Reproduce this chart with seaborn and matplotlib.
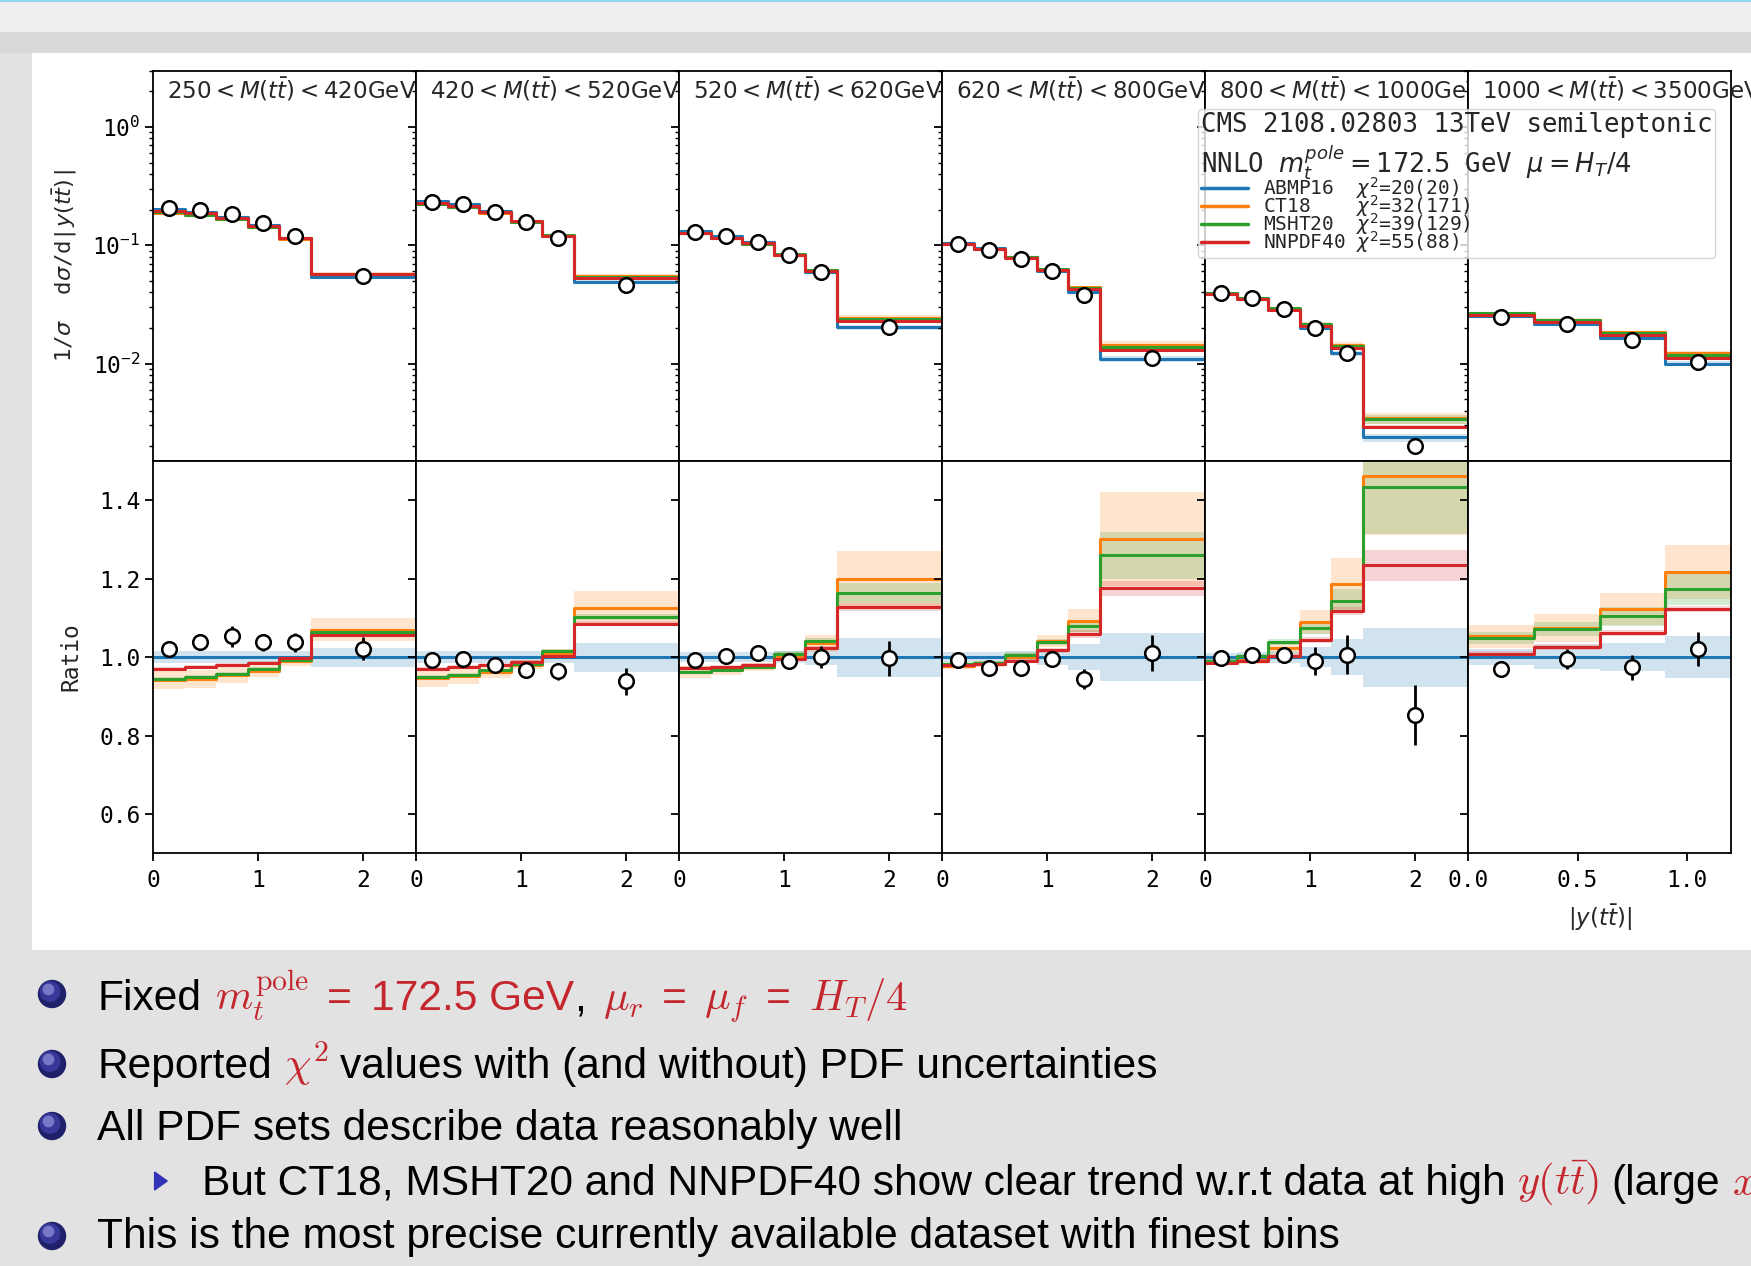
import numpy as np
import pandas as pd
import matplotlib
matplotlib.use("Agg")
import matplotlib.pyplot as plt
import seaborn as sns
from matplotlib.patches import Rectangle, Circle, Polygon
from matplotlib.lines import Line2D
from matplotlib.font_manager import FontProperties
from matplotlib.transforms import IdentityTransform

# ---------------- data ----------------
mass_labels = [r"$250 < M(t\bar{t}) < 420\mathrm{GeV}$",
               r"$420 < M(t\bar{t}) < 520\mathrm{GeV}$",
               r"$520 < M(t\bar{t}) < 620\mathrm{GeV}$",
               r"$620 < M(t\bar{t}) < 800\mathrm{GeV}$",
               r"$800 < M(t\bar{t}) < 1000\mathrm{GeV}$",
               r"$1000 < M(t\bar{t}) < 3500\mathrm{GeV}$"]

edges_main = [0.0, 0.3, 0.6, 0.9, 1.2, 1.5, 2.5]
edges_last = [0.0, 0.3, 0.6, 0.9, 1.2]
centers_main = [0.15, 0.45, 0.75, 1.05, 1.35, 2.0]
centers_last = [0.15, 0.45, 0.75, 1.05]
xticks_main = [0, 1, 2]
xticklabels_main = ["0", "1", "2"]
xticks_last = [0.0, 0.5, 1.0]
xticklabels_last = ["0.0", "0.5", "1.0"]
ratio_ticks = [0.6, 0.8, 1.0, 1.2, 1.4]

pdf_names = ["ABMP16", "CT18", "MSHT20", "NNPDF40"]
chi2_text = ["20(20)", "32(171)", "39(129)", "55(88)"]

# ABMP16 normalised cross section (reference prediction), per mass bin
abmp_p1 = [0.2006, 0.1907, 0.1738, 0.1472, 0.1149, 0.0537]
abmp_p2 = [0.2352, 0.2223, 0.1961, 0.1613, 0.1197, 0.0487]
abmp_p3 = [0.1307, 0.1187, 0.1056, 0.0829, 0.0594, 0.0203]
abmp_p4 = [0.1041, 0.0943, 0.0791, 0.0603, 0.0404, 0.0110]
abmp_p5 = [0.0395, 0.0355, 0.0285, 0.0200, 0.0122, 0.00237]
abmp_p6 = [0.0254, 0.0217, 0.0163, 0.0100]

# data / ABMP16
data_p1 = [1.022, 1.038, 1.053, 1.038, 1.038, 1.022]
data_p2 = [0.993, 0.996, 0.979, 0.966, 0.964, 0.938]
data_p3 = [0.993, 1.004, 1.010, 0.991, 1.000, 0.997]
data_p4 = [0.992, 0.973, 0.973, 0.996, 0.944, 1.010]
data_p5 = [0.997, 1.006, 1.005, 0.990, 1.006, 0.852]
data_p6 = [0.969, 0.995, 0.974, 1.021]

err_p1 = [0.020, 0.020, 0.026, 0.022, 0.024, 0.030]
err_p2 = [0.015, 0.015, 0.015, 0.018, 0.022, 0.035]
err_p3 = [0.015, 0.015, 0.015, 0.015, 0.028, 0.045]
err_p4 = [0.012, 0.012, 0.012, 0.015, 0.026, 0.046]
err_p5 = [0.012, 0.014, 0.016, 0.036, 0.050, 0.077]
err_p6 = [0.012, 0.025, 0.032, 0.043]

# CT18 / ABMP16
ct18_p1 = [0.942, 0.945, 0.954, 0.964, 0.990, 1.070]
ct18_p2 = [0.947, 0.952, 0.963, 0.981, 1.010, 1.126]
ct18_p3 = [0.962, 0.966, 0.975, 1.002, 1.035, 1.200]
ct18_p4 = [0.978, 0.983, 1.000, 1.042, 1.093, 1.301]
ct18_p5 = [0.989, 0.993, 1.023, 1.089, 1.187, 1.461]
ct18_p6 = [1.053, 1.074, 1.123, 1.217]

# MSHT20 / ABMP16
msht_p1 = [0.944, 0.949, 0.957, 0.969, 0.993, 1.063]
msht_p2 = [0.950, 0.955, 0.966, 0.983, 1.015, 1.103]
msht_p3 = [0.963, 0.968, 0.974, 1.009, 1.040, 1.164]
msht_p4 = [0.982, 0.986, 1.006, 1.038, 1.079, 1.260]
msht_p5 = [0.991, 1.002, 1.038, 1.074, 1.144, 1.433]
msht_p6 = [1.049, 1.072, 1.104, 1.173]

# NNPDF40 / ABMP16
nnpdf_p1 = [0.971, 0.974, 0.979, 0.986, 0.998, 1.056]
nnpdf_p2 = [0.969, 0.974, 0.979, 0.987, 1.002, 1.085]
nnpdf_p3 = [0.972, 0.976, 0.980, 0.995, 1.023, 1.128]
nnpdf_p4 = [0.981, 0.983, 0.991, 1.017, 1.059, 1.175]
nnpdf_p5 = [0.986, 0.989, 1.003, 1.044, 1.117, 1.234]
nnpdf_p6 = [1.009, 1.026, 1.062, 1.123]

# PDF uncertainty half-widths (ratio units)
abmp_unc_p1 = [0.015, 0.015, 0.015, 0.015, 0.015, 0.024]
abmp_unc_p2 = [0.015, 0.015, 0.015, 0.015, 0.015, 0.037]
abmp_unc_p3 = [0.012, 0.012, 0.012, 0.015, 0.020, 0.050]
abmp_unc_p4 = [0.012, 0.012, 0.015, 0.020, 0.033, 0.062]
abmp_unc_p5 = [0.010, 0.012, 0.015, 0.025, 0.045, 0.075]
abmp_unc_p6 = [0.020, 0.030, 0.035, 0.053]

ct18_unc_p1 = [0.023, 0.023, 0.020, 0.015, 0.012, 0.030]
ct18_unc_p2 = [0.023, 0.020, 0.015, 0.012, 0.012, 0.042]
ct18_unc_p3 = [0.015, 0.012, 0.010, 0.010, 0.022, 0.070]
ct18_unc_p4 = [0.008, 0.008, 0.010, 0.015, 0.030, 0.120]
ct18_unc_p5 = [0.008, 0.010, 0.015, 0.030, 0.065, 0.150]
ct18_unc_p6 = [0.030, 0.035, 0.040, 0.070]

msht_unc_p1 = [0.005, 0.005, 0.005, 0.005, 0.005, 0.006]
msht_unc_p2 = [0.005, 0.005, 0.005, 0.005, 0.005, 0.008]
msht_unc_p3 = [0.005, 0.005, 0.005, 0.006, 0.010, 0.025]
msht_unc_p4 = [0.005, 0.005, 0.006, 0.008, 0.015, 0.060]
msht_unc_p5 = [0.005, 0.006, 0.008, 0.015, 0.030, 0.120]
msht_unc_p6 = [0.015, 0.018, 0.025, 0.040]

nnpdf_unc_p1 = [0.005, 0.005, 0.005, 0.005, 0.005, 0.005]
nnpdf_unc_p2 = [0.005, 0.005, 0.005, 0.005, 0.005, 0.006]
nnpdf_unc_p3 = [0.005, 0.005, 0.005, 0.005, 0.006, 0.010]
nnpdf_unc_p4 = [0.005, 0.005, 0.005, 0.006, 0.010, 0.020]
nnpdf_unc_p5 = [0.005, 0.005, 0.006, 0.008, 0.010, 0.040]
nnpdf_unc_p6 = [0.007, 0.007, 0.007, 0.008]

abmp_all = [abmp_p1, abmp_p2, abmp_p3, abmp_p4, abmp_p5, abmp_p6]
data_all = [data_p1, data_p2, data_p3, data_p4, data_p5, data_p6]
err_all = [err_p1, err_p2, err_p3, err_p4, err_p5, err_p6]
ratios_all = [
    [[1.0] * len(abmp_all[i]) for i in range(6)],
    [ct18_p1, ct18_p2, ct18_p3, ct18_p4, ct18_p5, ct18_p6],
    [msht_p1, msht_p2, msht_p3, msht_p4, msht_p5, msht_p6],
    [nnpdf_p1, nnpdf_p2, nnpdf_p3, nnpdf_p4, nnpdf_p5, nnpdf_p6],
]
unc_all = [
    [abmp_unc_p1, abmp_unc_p2, abmp_unc_p3, abmp_unc_p4, abmp_unc_p5, abmp_unc_p6],
    [ct18_unc_p1, ct18_unc_p2, ct18_unc_p3, ct18_unc_p4, ct18_unc_p5, ct18_unc_p6],
    [msht_unc_p1, msht_unc_p2, msht_unc_p3, msht_unc_p4, msht_unc_p5, msht_unc_p6],
    [nnpdf_unc_p1, nnpdf_unc_p2, nnpdf_unc_p3, nnpdf_unc_p4, nnpdf_unc_p5, nnpdf_unc_p6],
]

# ---------------- style ----------------
sns.set_theme(style="ticks")
MONO = "DejaVu Sans Mono"
plt.rcParams.update({
    "font.family": [MONO, "DejaVu Sans"],
    "mathtext.fontset": "dejavusans",
    "axes.edgecolor": "black",
    "axes.linewidth": 1.3,
    "xtick.color": "black",
    "ytick.color": "black",
    "xtick.major.width": 1.3,
    "ytick.major.width": 1.3,
    "ytick.minor.width": 1.0,
    "xtick.major.size": 5.5,
    "ytick.major.size": 5.5,
    "ytick.minor.size": 3.0,
    "xtick.direction": "out",
    "ytick.direction": "out",
    "axes.facecolor": "white",
})
colors = sns.color_palette("tab10")[:4]

W, H = 1751, 1266
fig = plt.figure(figsize=(W / 100, H / 100), dpi=100, facecolor="#e2e2e2")


def fig_rect(x0, y0, x1, y1, color, z=0):
    fig.add_artist(Rectangle((x0 / W, 1 - y1 / H), (x1 - x0) / W, (y1 - y0) / H,
                             transform=fig.transFigure, color=color, lw=0, zorder=z))


# slide background pieces
fig_rect(0, 0, W, 32, "#eeeeee")
fig_rect(0, 0, W, 2, "#96d6f0")
fig_rect(0, 32, W, 53, "#d9d9d9")
fig_rect(32, 53, W, 950, "white")

# ---------------- axes ----------------
LEFT, PW = 153.0, 263.0
TOP_Y0, MID_Y, BOT_Y1 = 70.5, 461.0, 853.3

top_axes, bot_axes = [], []
for i in range(6):
    ax = fig.add_axes([(LEFT + i * PW) / W, 1 - MID_Y / H, PW / W, (MID_Y - TOP_Y0) / H])
    top_axes.append(ax)
for i in range(6):
    ax = fig.add_axes([(LEFT + i * PW) / W, 1 - BOT_Y1 / H, PW / W, (BOT_Y1 - MID_Y) / H])
    bot_axes.append(ax)

TICK_FS = 16.5

for i in range(6):
    edges = edges_last if i == 5 else edges_main
    centers = centers_last if i == 5 else centers_main
    abmp = np.array(abmp_all[i])
    axt, axb = top_axes[i], bot_axes[i]

    # bands
    for k in range(4):
        r = np.array(ratios_all[k][i])
        u = np.array(unc_all[k][i])
        lo = r - u
        hi = r + u
        axb.fill_between(edges, list(lo) + [lo[-1]], list(hi) + [hi[-1]], step="post",
                         color=colors[k], alpha=0.2, lw=0, zorder=1)
        lo_a = abmp * lo
        hi_a = abmp * hi
        axt.fill_between(edges, list(lo_a) + [lo_a[-1]], list(hi_a) + [hi_a[-1]], step="post",
                         color=colors[k], alpha=0.2, lw=0, zorder=1)
    # lines
    for k in range(4):
        r = np.array(ratios_all[k][i])
        yr = list(r) + [r[-1]]
        ya = list(abmp * r) + [abmp[-1] * r[-1]]
        sns.lineplot(x=edges, y=yr, ax=axb, color=colors[k], lw=2.2, drawstyle="steps-post",
                     estimator=None, sort=False, legend=False, zorder=2)
        sns.lineplot(x=edges, y=ya, ax=axt, color=colors[k], lw=2.2, drawstyle="steps-post",
                     estimator=None, sort=False, legend=False, zorder=2)
    # data
    d = np.array(data_all[i])
    e = np.array(err_all[i])
    axb.errorbar(centers, d, yerr=e, fmt="o", ms=10.5, mfc="white", mec="black", mew=1.8,
                 ecolor="black", elinewidth=2.0, capsize=0, zorder=5)
    axt.errorbar(centers, abmp * d, yerr=abmp * e, fmt="o", ms=10.5, mfc="white", mec="black",
                 mew=1.8, ecolor="black", elinewidth=2.0, capsize=0, zorder=5)

    # axes formatting
    xmax = edges[-1]
    for ax in (axt, axb):
        ax.set_xlim(0, xmax)
        ax.set_xlabel("")
        ax.set_ylabel("")
        for s in ax.spines.values():
            s.set_visible(True)
    axt.set_yscale("log")
    axt.set_ylim(1.5e-3, 3.0)
    axt.tick_params(axis="x", bottom=False, labelbottom=False)
    axt.tick_params(axis="y", labelsize=TICK_FS, labelleft=(i == 0))
    axb.set_ylim(0.5, 1.5)
    axb.set_yticks(ratio_ticks)
    axb.set_yticklabels([f"{v:.1f}" for v in ratio_ticks])
    axb.tick_params(axis="y", labelsize=TICK_FS, labelleft=(i == 0))
    if i == 5:
        axb.set_xticks(xticks_last)
        axb.set_xticklabels(xticklabels_last)
    else:
        axb.set_xticks(xticks_main)
        axb.set_xticklabels(xticklabels_main)
    axb.tick_params(axis="x", labelsize=TICK_FS, pad=6)

    axt.text(0.055, 0.952, mass_labels[i], transform=axt.transAxes, ha="left", va="center",
             fontsize=16.6, clip_on=False, zorder=6)

# axis labels
fig.text(65 / W, 1 - 266 / H, r"1/$\sigma$  d$\sigma$/d|$y(t\bar{t})$|", rotation=90,
         ha="center", va="center", fontsize=16)
fig.text(71 / W, 1 - 657 / H, "Ratio", rotation=90, ha="center", va="center", fontsize=16.5)
fig.text(1600 / W, 1 - 918 / H, r"$|y(t\bar{t})|$", ha="center", va="center", fontsize=16.5)

# legend
handles = [Line2D([], [], color=colors[k], lw=2.5) for k in range(4)]
labels = [f"{pdf_names[k]:<8s}" + r"$\chi^2$=" + chi2_text[k] for k in range(4)]
leg = fig.legend(handles, labels, loc="upper left", bbox_to_anchor=(1198 / W, 1 - 109 / H),
                 bbox_transform=fig.transFigure,
                 title="CMS 2108.02803 13TeV semileptonic\n"
                       r"NNLO $m_t^{pole}=172.5$ GeV $\mu=H_T/4$",
                 title_fontproperties=FontProperties(family=MONO, size=18.5),
                 prop=FontProperties(family=MONO, size=14), alignment="left",
                 labelspacing=-0.4, handlelength=2.4, handletextpad=0.8, borderpad=0.15,
                 borderaxespad=0.0, framealpha=0.8, edgecolor="#cccccc", fancybox=True)

# ---------------- slide text ----------------
RED = "#c4262e"
SANS = ["Liberation Sans", "DejaVu Sans"]
renderer = fig.canvas.get_renderer()


def text_line(x0, y_base, parts, size):
    x = x0
    space = size * 100 / 72 * 0.278
    for s, c, gap_before, mfam in parts:
        x += space * gap_before
        t = fig.text(x / W, 1 - y_base / H, s, color=c, fontsize=size, ha="left",
                     va="baseline", family=SANS, math_fontfamily=mfam, zorder=10)
        bb = t.get_window_extent(renderer)
        x = bb.x1


def ball(cx, cy, r=13.5):
    tr = IdentityTransform()
    cy_d = H - cy
    fig.add_artist(Circle((cx, cy_d), r, color="#20206a", transform=tr, zorder=9))
    fig.add_artist(Circle((cx - 2.0, cy_d + 2.5), r * 0.72, color="#38389a", transform=tr, zorder=9))
    fig.add_artist(Circle((cx - 3.5, cy_d + 4.5), r * 0.38, color="#7878c8", transform=tr, zorder=9))


def tri(cx, cy, s=9):
    tr = IdentityTransform()
    cy_d = H - cy
    fig.add_artist(Polygon([(cx - s * 0.6, cy_d + s), (cx - s * 0.6, cy_d - s), (cx + s * 0.8, cy_d)],
                           closed=True, color="#3333b8", transform=tr, zorder=9))


FS = 30.6
ball(52, 994)
text_line(97, 1010, [("Fixed", "black", 0, "cm"), (r"$m_t^{\mathrm{pole}}$", RED, 1.2, "cm"),
                     ("=", RED, 1.5, "cm"), ("172.5 GeV", RED, 1.6, "cm"), (",", "black", 0, "cm"),
                     (r"$\mu_r$", RED, 1.5, "cm"), ("=", RED, 1.5, "cm"),
                     (r"$\mu_f$", RED, 1.5, "cm"), ("=", RED, 1.5, "cm"),
                     (r"$H_T/4$", RED, 1.5, "cm")], FS)
ball(52, 1064)
text_line(97, 1078, [("Reported", "black", 0, "cm"), (r"$\chi^2$", RED, 1, "cm"),
                     ("values with (and without) PDF uncertainties", "black", 1, "cm")], FS)
ball(52, 1126)
text_line(97, 1140, [("All PDF sets describe data reasonably well", "black", 0, "cm")], FS)
tri(160, 1181)
text_line(202, 1195, [("But CT18, MSHT20 and NNPDF40 show clear trend w.r.t data at high", "black", 0, "cm"),
                      (r"$y(t\bar{t})$", RED, 1, "cm"), ("(large", "black", 1, "cm"),
                      (r"$x$", RED, 1, "cm")], FS)
ball(52, 1236)
text_line(97, 1248, [("This is the most precise currently available dataset with finest bins",
                      "black", 0, "cm")], FS)

fig.savefig("out.png", dpi=100, facecolor=fig.get_facecolor())
